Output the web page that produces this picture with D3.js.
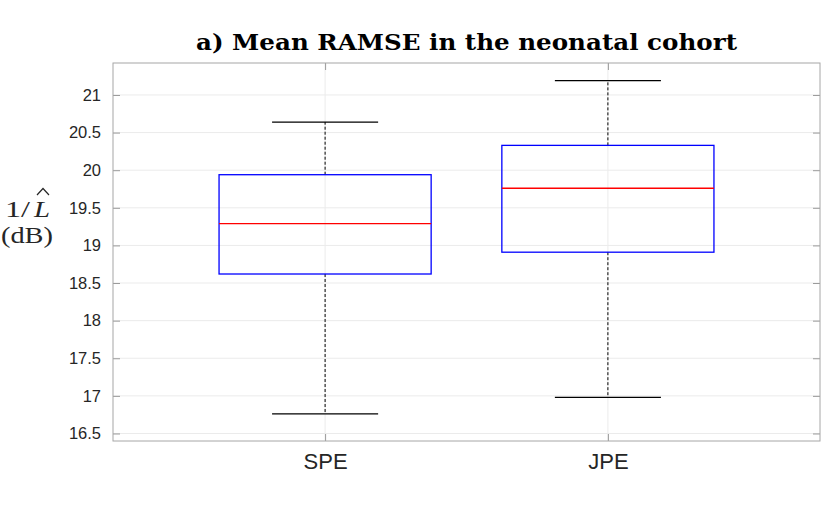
<!DOCTYPE html>
<html><head><meta charset="utf-8">
<script src="https://cdn.jsdelivr.net/npm/d3@7"></script>
<style>body{margin:0;background:#fff}</style></head>
<body><svg id="c" width="830" height="519"></svg>
<script>
const categories = ["SPE", "JPE"];
const whiskerLow = [16.76, 16.98];
const q1 = [18.62, 18.91];
const median = [19.29, 19.76];
const q3 = [19.94, 20.33];
const whiskerHigh = [20.64, 21.19];
const yTicks = [16.5, 17, 17.5, 18, 18.5, 19, 19.5, 20, 20.5, 21];

const svg = d3.select("#c");
const L = 113, R = 820, T = 63, B = 441;
const x = d3.scaleLinear().domain([0.25, 2.75]).range([L, R]);
const y = d3.scaleLinear().domain([16.4, 21.425]).range([B, T]);

const g = svg.append("g");
// grid
g.selectAll(".gy").data(yTicks).enter().append("line")
  .attr("x1", L).attr("x2", R).attr("y1", d => y(d)).attr("y2", d => y(d))
  .attr("stroke", "#ebebeb").attr("stroke-width", 1);
g.selectAll(".gx").data(categories).enter().append("line")
  .attr("x1", (d, i) => x(i + 1)).attr("x2", (d, i) => x(i + 1))
  .attr("y1", T).attr("y2", B).attr("stroke", "#ebebeb").attr("stroke-width", 1);

// axes
const axL = d3.axisLeft(y).tickValues(yTicks).tickSizeInner(-7).tickSizeOuter(0).tickPadding(12).tickFormat(d3.format("~g"));
const gl = svg.append("g").attr("transform", `translate(${L},0)`).call(axL);
gl.select(".domain").remove();
gl.selectAll("line").attr("stroke", "#9a9a9a");
gl.selectAll("text").attr("font-family", "Liberation Sans, Arial, sans-serif").attr("font-size", 16.5).attr("fill", "#262626");

const axR = d3.axisRight(y).tickValues(yTicks).tickSizeInner(-7).tickSizeOuter(0).tickFormat("");
const gr = svg.append("g").attr("transform", `translate(${R},0)`).call(axR);
gr.select(".domain").remove();
gr.selectAll("line").attr("stroke", "#9a9a9a");

const axB = d3.axisBottom(x).tickValues([1, 2]).tickSizeInner(-7).tickSizeOuter(0).tickPadding(12).tickFormat((d) => categories[d - 1]);
const gb = svg.append("g").attr("transform", `translate(0,${B})`).call(axB);
gb.select(".domain").remove();
gb.selectAll("line").attr("stroke", "#9a9a9a");
gb.selectAll("text").attr("font-family", "Liberation Sans, Arial, sans-serif").attr("font-size", 22).attr("fill", "#262626");

const axT = d3.axisTop(x).tickValues([1, 2]).tickSizeInner(-7).tickSizeOuter(0).tickFormat("");
const gt = svg.append("g").attr("transform", `translate(0,${T})`).call(axT);
gt.select(".domain").remove();
gt.selectAll("line").attr("stroke", "#9a9a9a");

svg.append("rect").attr("x", L).attr("y", T).attr("width", R - L).attr("height", B - T)
  .attr("fill", "none").attr("stroke", "#a6a6a6").attr("stroke-width", 1);

// boxes
const bw = 0.375, cw = 0.1875;
const bx = svg.append("g");
categories.forEach((c, i) => {
  const cx = x(i + 1);
  bx.append("line").attr("x1", cx).attr("x2", cx).attr("y1", y(q3[i])).attr("y2", y(whiskerHigh[i]))
    .attr("stroke", "#000").attr("stroke-width", 1).attr("stroke-dasharray", "3,2");
  bx.append("line").attr("x1", cx).attr("x2", cx).attr("y1", y(q1[i])).attr("y2", y(whiskerLow[i]))
    .attr("stroke", "#000").attr("stroke-width", 1).attr("stroke-dasharray", "3,2");
  [whiskerHigh[i], whiskerLow[i]].forEach(v => {
    bx.append("line").attr("x1", x(i + 1 - cw)).attr("x2", x(i + 1 + cw)).attr("y1", y(v)).attr("y2", y(v))
      .attr("stroke", "#000").attr("stroke-width", 1.3);
  });
  bx.append("rect").attr("x", x(i + 1 - bw)).attr("width", x(i + 1 + bw) - x(i + 1 - bw))
    .attr("y", y(q3[i])).attr("height", y(q1[i]) - y(q3[i]))
    .attr("fill", "none").attr("stroke", "#0000ff").attr("stroke-width", 1.3);
  bx.append("line").attr("x1", x(i + 1 - bw)).attr("x2", x(i + 1 + bw)).attr("y1", y(median[i])).attr("y2", y(median[i]))
    .attr("stroke", "#ff0000").attr("stroke-width", 1.3);
});

// title
svg.append("text").attr("x", 466.5).attr("y", 50).attr("text-anchor", "middle")
  .attr("font-family", "DejaVu Serif, serif").attr("font-weight", "bold").attr("font-size", 23)
  .attr("fill", "#000").attr("textLength", 541).attr("lengthAdjust", "spacingAndGlyphs")
  .text("a) Mean RAMSE in the neonatal cohort");

// y label
const yfont = "Liberation Serif, 'DejaVu Serif', serif";
svg.append("text").attr("x", 5).attr("y", 217).attr("font-family", yfont).attr("font-size", 23).attr("fill", "#262626")
  .attr("textLength", 25).attr("lengthAdjust", "spacingAndGlyphs").text("1/");
svg.append("text").attr("x", 34).attr("y", 217).attr("font-family", yfont).attr("font-size", 23).attr("font-style", "italic").attr("fill", "#262626")
  .attr("textLength", 16).attr("lengthAdjust", "spacingAndGlyphs").text("L");
svg.append("text").attr("x", 1).attr("y", 243).attr("font-family", yfont).attr("font-size", 23).attr("fill", "#262626")
  .attr("textLength", 52).attr("lengthAdjust", "spacingAndGlyphs").text("(dB)");
// hat over L
svg.append("path").attr("d", d3.line()([[37, 195], [43, 188.5], [49, 195]]))
  .attr("fill", "none").attr("stroke", "#262626").attr("stroke-width", 1.2);
</script></body></html>
